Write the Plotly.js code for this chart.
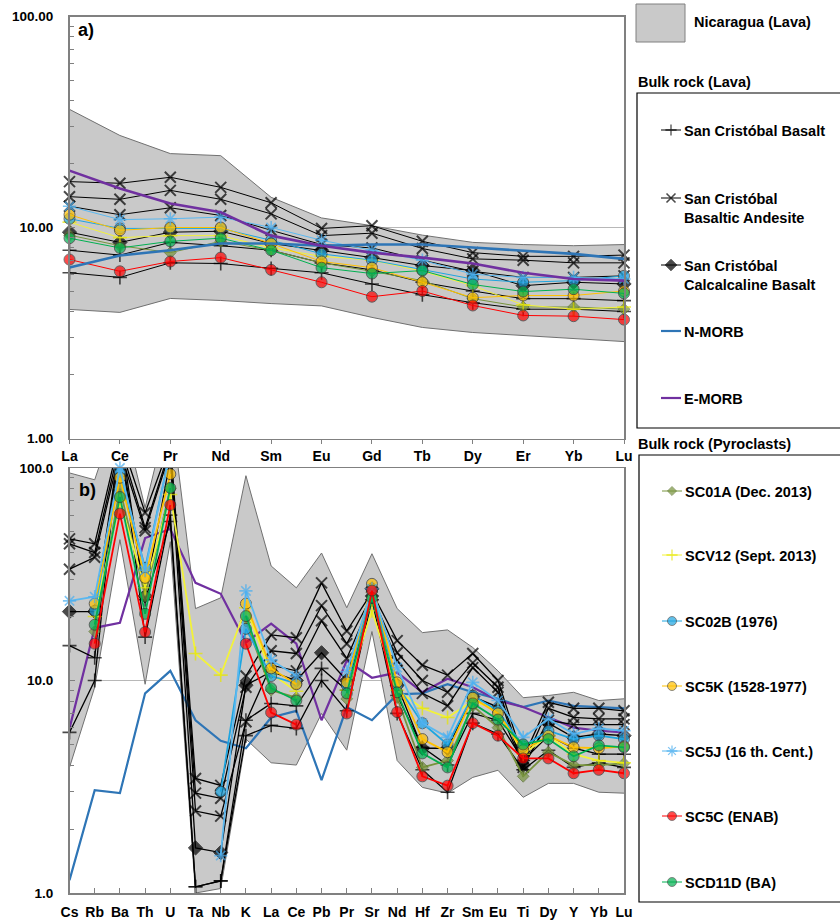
<!DOCTYPE html>
<html>
<head>
<meta charset="utf-8">
<script src="https://cdn.plot.ly/plotly-3.0.1.min.js"></script>
<style>html,body{margin:0;padding:0;background:#fff;}#chart{width:840px;height:920px;}</style>
</head>
<body>
<div id="chart"></div>
<script>
// ---------- categories ----------
const reeElements = ['La','Ce','Pr','Nd','Sm','Eu','Gd','Tb','Dy','Er','Yb','Lu'];
const spiderElements = ['Cs','Rb','Ba','Th','U','Ta','Nb','K','La','Ce','Pb','Pr','Sr','Nd','Hf','Zr','Sm','Eu','Ti','Dy','Y','Yb','Lu'];

// ---------- panel a) REE (chondrite normalised) ----------
const nicUpperA = [36.3, 27.3, 22.4, 21.9, 13.9, 11.1, 10.2, 9.2, 8.5, 8.3, 8.2, 8.3];
const nicLowerA = [4.09, 3.96, 4.61, 4.51, 4.36, 4.25, 3.75, 3.36, 3.18, 3.08, 2.98, 2.88];
const nmorbA = [6.46, 7.37, 7.8, 8.4, 8.4, 8.2, 8.3, 8.3, 8.04, 7.78, 7.5, 7.1];
const emorbA = [18.6, 15.3, 13.0, 11.8, 9.15, 8.2, 7.6, 7.2, 6.75, 6.1, 5.7, 5.6];
const basAndesiteA1 = [16.5, 16.2, 17.3, 15.5, 13.1, 9.9, 10.2, 8.6, 7.6, 7.3, 7.3, 7.4];
const basAndesiteA2 = [14.0, 13.6, 15.0, 13.6, 11.6, 9.15, 9.4, 7.95, 7.1, 7.0, 6.8, 6.8];
const basAndesiteA3 = [12.6, 11.5, 12.4, 11.4, 9.7, 8.3, 8.0, 7.0, 6.2, 5.8, 5.8, 5.9];
const basaltA1 = [7.8, 7.4, 8.5, 8.2, 7.8, 6.8, 6.3, 5.5, 5.0, 4.6, 4.6, 4.5];
const basaltA2 = [6.1, 5.8, 6.8, 6.75, 6.4, 6.1, 5.4, 4.8, 4.4, 4.1, 4.1, 4.0];
const calcBasaltA = [9.5, 8.5, 9.5, 9.6, 8.4, 7.8, 7.2, 6.6, 6.25, 5.3, 5.5, 5.4];
const sc01aA = [9.2, 8.2, 7.6, 8.6, 7.8, 6.8, 6.2, 5.6, 4.6, 4.2, 4.2, 4.1];
const scv12A = [10.6, 8.95, 9.15, 9.15, 8.0, 7.3, 7.0, 6.2, 5.3, 4.3, 4.1, 4.2];
const sc02bA = [11.0, 9.9, 9.9, 9.9, 8.7, 7.5, 7.0, 6.3, 5.7, 5.5, 5.6, 5.9];
const sc5kA = [11.5, 9.7, 10.0, 10.0, 8.4, 6.9, 6.45, 5.5, 4.65, 4.76, 4.76, 5.0];
const sc5jA = [12.6, 10.9, 11.0, 11.2, 10.0, 8.7, 7.8, 7.0, 6.0, 5.8, 5.8, 5.7];
const sc5cA = [7.05, 6.2, 6.9, 7.2, 6.3, 5.5, 4.7, 5.0, 4.27, 3.83, 3.8, 3.66];
const scd11dA = [8.9, 8.0, 8.6, 8.9, 7.8, 6.45, 6.05, 6.25, 5.37, 4.97, 5.1, 4.87];

// ---------- panel b) multi-element (primitive mantle normalised) ----------
const nicUpperB = [94.8, 88, 200, 65, 200, 21.8, 24.5, 92, 34.6, 27.3, 39.8, 22.0, 39.5, 21.8, 16.8, 17.3, 14.3, 11.1, 8.3, 8.5, 8.8, 8.05, 8.2];
const nicLowerB = [3.9, 9.3, 46, 9.6, 45, 1.0, 1.05, 5.3, 4.1, 4.0, 7.0, 4.7, 17.0, 4.2, 3.14, 2.95, 3.5, 3.78, 2.82, 3.28, 3.28, 2.98, 2.95];
const nmorbB = [1.15, 3.05, 2.95, 8.7, 11.1, 6.5, 5.2, 4.8, 6.7, 7.2, 3.4, 7.5, 6.5, 8.6, 8.7, 9.6, 8.8, 8.2, 7.5, 8.05, 7.6, 7.5, 7.4];
const emorbB = [5.95, 17.7, 18.7, 46.8, 51.6, 28.8, 25.6, 15.1, 18.5, 14.9, 6.5, 12.4, 10.3, 10.9, 8.8, 10.2, 9.3, 8.05, 7.5, 6.7, 6.0, 5.8, 5.7];
const basAndesiteB1 = [46.4, 44, 140, 61.6, 130, 3.46, 3.21, 10.5, 16.4, 15.9, 28.8, 17.1, 26, 15.4, 11.8, 10.6, 13.4, 10.0, 4.3, 7.9, 7.4, 7.4, 7.2];
const basAndesiteB2 = [44, 40, 130, 52.4, 125, 2.95, 2.79, 9.3, 13.8, 13.4, 22.5, 14.9, 25, 13.5, 10.0, 8.8, 12.1, 9.3, 4.0, 7.4, 6.7, 6.6, 6.6];
const basAndesiteB3 = [33.4, 38, 120, 50.7, 120, 2.43, 2.3, 6.4, 11.8, 11.1, 19.1, 12.7, 24, 12.4, 8.7, 7.6, 11.5, 8.8, 3.9, 6.5, 6.2, 6.2, 6.2];
const basaltB1 = [14.6, 12.8, 150, 24, 56, 1.07, 1.14, 6.5, 7.8, 7.6, 11.4, 9.0, 25, 8.5, 4.85, 4.0, 7.0, 6.5, 4.2, 5.5, 4.8, 4.5, 4.5];
const basaltB2 = [5.7, 10.0, 140, 16, 60, 1.07, 1.14, 5.5, 6.15, 5.95, 10.0, 7.2, 24, 7.0, 3.8, 2.98, 6.3, 5.6, 3.8, 4.7, 3.9, 4.1, 3.9];
const calcBasaltB = [21.1, 21.1, 130, 25, 110, 1.63, 1.55, 9.5, 11, 10, 13.5, 10, 27, 9.5, 4.8, 4.8, 8.4, 7.5, 4.0, 6.3, 5.4, 5.6, 5.5];
const sc01aB = [null, 17, 80, 25, 80, null, null, 19, 9.0, 8.3, null, 8.2, 26, 8.3, 3.9, 4.2, 7.6, 6.0, 3.54, 4.6, 4.0, 4.0, 4.07];
const scv12B = [null, 20, 70, 27.3, 75, 13.4, 10.6, 22, 10.8, 8.9, null, 9.0, 21.3, 9.0, 7.4, 6.7, 8.0, 7.3, 4.5, 5.5, 4.5, 4.2, 4.1];
const sc02bB = [null, 21.3, 95, 33.9, 120, null, 3.0, 17.5, 10.5, 9.7, null, 9.5, 27, 9.5, 6.3, 5.0, 8.5, 7.2, 4.9, 5.8, 5.3, 5.5, 5.3];
const sc5kB = [null, 23, 90, 30.4, 93.6, null, null, 23, 11.4, 9.6, null, 9.8, 28.5, 9.8, 5.3, 4.6, 8.3, 7.0, 4.7, 5.5, 4.85, 4.8, 4.9];
const sc5jB = [23.7, 24.8, 100, 33, 120, null, 1.5, 26.4, 12.5, 10.5, null, 11, 27, 11.5, 6.3, 5.4, 9.8, 8.05, 5.4, 6.6, 5.6, 5.95, 5.8];
const sc5cB = [null, 14.9, 61, 16.9, 67, null, null, 14.9, 7.07, 6.2, null, 7.0, 26.5, 7.1, 3.54, 3.2, 6.3, 5.5, 4.3, 4.3, 3.66, 3.8, 3.66];
const scd11dB = [null, 18.3, 73, 20.6, 80.6, null, null, 20.1, 9.2, 8.05, null, 8.7, 24.5, 8.8, 4.54, 3.9, 7.8, 6.55, 5.0, 5.3, 4.4, 4.95, 4.85];

// ---------- styles ----------
const FONT = 'Liberation Sans, Arial, sans-serif';
const YMAX = 100;
const ST = {
  basalt:   {color:'#000000', symbol:'cross-thin', size:10, mline:'#000000', mw:1.6, lw:1},
  andesite: {color:'#000000', symbol:'x-thin', size:11, mline:'#000000', mw:2, lw:1},
  calc:     {color:'#000000', symbol:'diamond', size:11, mline:'#000000', mw:1, lw:1},
  nmorb:    {color:'#2e75b6', symbol:null, lw:2.6},
  emorb:    {color:'#7030a0', symbol:null, lw:2.6},
  sc01a:    {color:'#77933c', symbol:'diamond', size:9, mline:'#5a7030', mw:1, lw:1},
  scv12:    {color:'#f2f23a', symbol:'cross-thin', size:10, mline:'#e6e600', mw:1.6, lw:1},
  sc02b:    {color:'#1ea5e0', symbol:'circle', size:11, mline:'#333333', mw:1, lw:1},
  sc5k:     {color:'#ffc000', symbol:'circle', size:11, mline:'#333333', mw:1, lw:1},
  sc5j:     {color:'#5ab8f0', symbol:'asterisk', size:11, mline:'#4aaef0', mw:1.6, lw:1},
  sc5c:     {color:'#ff0000', symbol:'circle', size:11, mline:'#333333', mw:1, lw:1},
  scd11d:   {color:'#00b050', symbol:'circle', size:11, mline:'#333333', mw:1, lw:1}
};

function series(xs, ys, xa, ya, st, lwScale) {
  const t = {type:'scatter', x:xs, y:ys, xaxis:xa, yaxis:ya, showlegend:false, hoverinfo:'skip',
    connectgaps:false, cliponaxis:false,
    line:{color:st.color, width:st.lw*(lwScale||1)}};
  if (st.symbol) {
    t.mode = 'lines+markers';
    t.marker = {symbol:st.symbol, color:st.color,
      size: ys.map(v => (v == null || v > YMAX) ? 0 : st.size),
      line:{color:st.mline, width:st.mw}};
  } else {
    t.mode = 'lines';
  }
  return t;
}
function band(xs, lo, hi, xa, ya) {
  return [
    {type:'scatter', mode:'lines', x:xs, y:lo, xaxis:xa, yaxis:ya, showlegend:false, hoverinfo:'skip',
     line:{color:'#707070', width:1}},
    {type:'scatter', mode:'lines', x:xs, y:hi, xaxis:xa, yaxis:ya, showlegend:false, hoverinfo:'skip',
     fill:'tonexty', fillcolor:'#c9c9c9', line:{color:'#707070', width:1}}
  ];
}

const traces = [];
// panel a
traces.push(...band(reeElements, nicLowerA, nicUpperA, 'x', 'y'));
[[basaltA1,'basalt'],[basaltA2,'basalt'],[basAndesiteA1,'andesite'],[basAndesiteA2,'andesite'],[basAndesiteA3,'andesite'],[calcBasaltA,'calc']]
  .forEach(([d,s]) => traces.push(series(reeElements, d, 'x', 'y', ST[s])));
[[sc01aA,'sc01a'],[scv12A,'scv12'],[sc02bA,'sc02b'],[sc5kA,'sc5k'],[sc5jA,'sc5j'],[scd11dA,'scd11d'],[sc5cA,'sc5c']]
  .forEach(([d,s]) => traces.push(series(reeElements, d, 'x', 'y', ST[s])));
traces.push(series(reeElements, nmorbA, 'x', 'y', ST.nmorb));
traces.push(series(reeElements, emorbA, 'x', 'y', ST.emorb));

// panel b
traces.push(...band(spiderElements, nicLowerB, nicUpperB, 'x2', 'y2'));
traces.push(series(spiderElements, nmorbB, 'x2', 'y2', ST.nmorb, 0.85));
traces.push(series(spiderElements, emorbB, 'x2', 'y2', ST.emorb, 0.85));
[[basaltB1,'basalt'],[basaltB2,'basalt'],[basAndesiteB1,'andesite'],[basAndesiteB2,'andesite'],[basAndesiteB3,'andesite'],[calcBasaltB,'calc']]
  .forEach(([d,s]) => traces.push(series(spiderElements, d, 'x2', 'y2', ST[s], 1.3)));
[[sc01aB,'sc01a'],[scv12B,'scv12'],[sc02bB,'sc02b'],[sc5kB,'sc5k'],[sc5jB,'sc5j'],[scd11dB,'scd11d'],[sc5cB,'sc5c']]
  .forEach(([d,s]) => traces.push(series(spiderElements, d, 'x2', 'y2', ST[s], 1.8)));

// ---------- manual legend (pixel space on overlay axes x3/y3) ----------
const lavaLegend = [
  {label:'San Cristóbal Basalt', st:'basalt', y:130},
  {label:'San Cristóbal<br>Basaltic Andesite', st:'andesite', y:198},
  {label:'San Cristóbal<br>Calcalcaline Basalt', st:'calc', y:265},
  {label:'N-MORB', st:'nmorb', y:331},
  {label:'E-MORB', st:'emorb', y:398}
];
const pyroLegend = [
  {label:'SC01A (Dec. 2013)', st:'sc01a', y:491},
  {label:'SCV12 (Sept. 2013)', st:'scv12', y:555},
  {label:'SC02B (1976)', st:'sc02b', y:621},
  {label:'SC5K (1528-1977)', st:'sc5k', y:686},
  {label:'SC5J (16 th. Cent.)', st:'sc5j', y:751},
  {label:'SC5C (ENAB)', st:'sc5c', y:816},
  {label:'SCD11D (BA)', st:'scd11d', y:882}
];
const LF = 14.5;
const annotations = [];
function legendItem(it, x0) {
  const st = ST[it.st];
  const t = {type:'scatter', x:[x0, x0+10, x0+20], y:[it.y, it.y, it.y], xaxis:'x3', yaxis:'y3',
    showlegend:false, hoverinfo:'skip', cliponaxis:false,
    line:{color:st.color, width: st.symbol ? 1 : 2.2}};
  if (st.symbol) {
    t.mode = 'lines+markers';
    t.marker = {symbol:st.symbol, color:st.color, size:[0, Math.max(7, st.size-2), 0], line:{color:st.mline, width:st.mw*0.8}};
  } else t.mode = 'lines';
  traces.push(t);
  annotations.push({xref:'x3', yref:'y3', x:x0+21, y:it.y, xanchor:'left', yanchor:'top', yshift:9.5,
    text:it.label, showarrow:false, align:'left',
    font:{family:FONT, size:LF, color:'#000', weight:'bold'}});
}
lavaLegend.forEach(it => legendItem(it, 661));
pyroLegend.forEach(it => legendItem(it, 662));

const boldF = (sz) => ({family:FONT, size:sz, color:'#000', weight:'bold'});
annotations.push(
  {xref:'x3', yref:'y3', x:692, y:22, xanchor:'left', yanchor:'middle', text:'Nicaragua (Lava)', showarrow:false, font:boldF(LF)},
  {xref:'x3', yref:'y3', x:636, y:82, xanchor:'left', yanchor:'middle', text:'Bulk rock (Lava)', showarrow:false, font:boldF(LF)},
  {xref:'x3', yref:'y3', x:636, y:444, xanchor:'left', yanchor:'middle', text:'Bulk rock (Pyroclasts)', showarrow:false, font:boldF(LF)},
  {xref:'x3', yref:'y3', x:76, y:30, xanchor:'left', yanchor:'middle', text:'a)', showarrow:false, font:boldF(18)},
  {xref:'x3', yref:'y3', x:77, y:490, xanchor:'left', yanchor:'middle', text:'b)', showarrow:false, font:boldF(18)}
);
const shapes = [
  {type:'rect', xref:'x3', yref:'y3', x0:636, x1:685, y0:4, y1:42, fillcolor:'#c9c9c9', line:{color:'#808080', width:1}},
  {type:'rect', xref:'x3', yref:'y3', x0:637, x1:860, y0:93, y1:428, fillcolor:'rgba(0,0,0,0)', line:{color:'#000', width:1.2}},
  {type:'rect', xref:'x3', yref:'y3', x0:639, x1:860, y0:455, y1:902, fillcolor:'rgba(0,0,0,0)', line:{color:'#000', width:1.2}}
];

// ---------- axes ----------
const W = 840, H = 920;
const xL = 69.5, xR = 624;
const aTop = 16.5, aBot = 438.5, bTop = 468, bBot = 893;
const minorVals = [];
[1,10].forEach(d => { for (let k = 2; k <= 9; k++) minorVals.push(k*d); });
function yAxis(dom, ticktext) {
  return {type:'log', range:[0,2], domain:dom, tickvals:[1,10,100], ticktext:ticktext,
    ticks:'inside', ticklen:5, tickcolor:'#808080', ticklabelstandoff:12,
    minor:{tickvals:minorVals, ticks:'inside', ticklen:4, tickcolor:'#808080', showgrid:false},
    showgrid:true, gridcolor:'#b8b8b8', gridwidth:1, zeroline:false,
    showline:true, linecolor:'#808080', linewidth:1.5, mirror:true,
    tickfont:boldF(13.5)};
}
const layout = {
  width:W, height:H, margin:{l:0, r:0, t:0, b:0},
  paper_bgcolor:'#ffffff', plot_bgcolor:'rgba(0,0,0,0)',
  showlegend:false,
  xaxis:{type:'category', categoryorder:'array', categoryarray:reeElements, range:[0, reeElements.length-1],
    domain:[xL/W, xR/W], anchor:'y', ticks:'outside', ticklen:4, tickcolor:'#808080',
    showline:true, linecolor:'#808080', linewidth:1.5, mirror:true, showgrid:false, tickfont:boldF(14)},
  yaxis:Object.assign(yAxis([1-aBot/H, 1-aTop/H], ['1.00','10.00','100.00']), {anchor:'x'}),
  xaxis2:{type:'category', categoryorder:'array', categoryarray:spiderElements, range:[0, spiderElements.length-1],
    domain:[xL/W, xR/W], anchor:'y2', ticks:'inside', ticklen:5, tickcolor:'#808080', ticklabelstandoff:6,
    showline:true, linecolor:'#808080', linewidth:1.5, mirror:true, showgrid:false, tickfont:boldF(14)},
  yaxis2:Object.assign(yAxis([1-bBot/H, 1-bTop/H], ['1.0','10.0','100.0']), {anchor:'x2'}),
  xaxis3:{domain:[0,1], range:[0,W], visible:false, anchor:'y3', fixedrange:true},
  yaxis3:{domain:[0,1], range:[H,0], visible:false, anchor:'x3', fixedrange:true},
  annotations:annotations, shapes:shapes
};
Plotly.newPlot('chart', traces, layout, {staticPlot:true, displayModeBar:false});
</script>
</body>
</html>
